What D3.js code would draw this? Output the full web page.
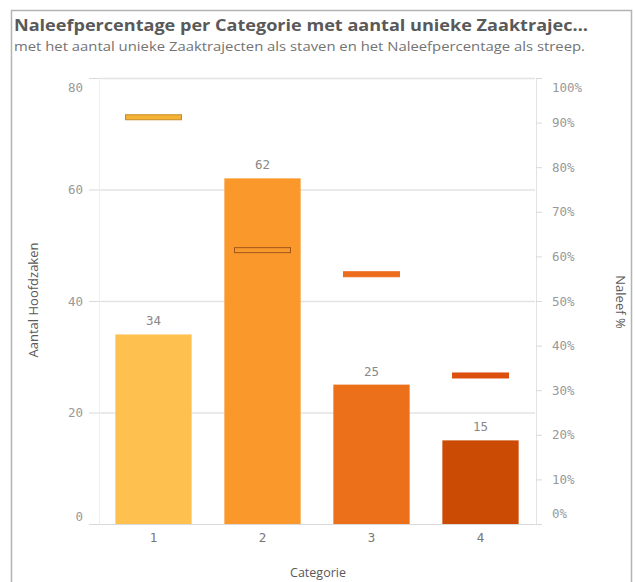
<!DOCTYPE html>
<html>
<head>
<meta charset="utf-8">
<script src="https://cdn.jsdelivr.net/npm/d3@7"></script>
<style>
  body { margin: 0; background: #fff; }
  svg text { font-family: "DejaVu Sans Mono", monospace; }
</style>
</head>
<body>
<svg id="chart" width="635" height="582"></svg>
<script>
"use strict";
var categories = ["1", "2", "3", "4"];
var counts = [34, 62, 25, 15];
var naleef = [91.2, 61.4, 56.0, 33.3];
var countTicks = [0, 20, 40, 60, 80];
var pctTicks = [0, 10, 20, 30, 40, 50, 60, 70, 80, 90, 100];
var barColors = ["#fec04f", "#fb982b", "#eb7019", "#cb4a04"];
var markFill = ["#f3b337", "#f79a2c", "#ec6d1c", "#dc4f0e"];
var markStroke = ["#c98d1f", "#a4561a", "#ec6d1c", "#dc4f0e"];

var svg = d3.select("#chart");
var plotLeft = 99, plotRight = 535, plotTop = 78, plotBottom = 524;

// frame
svg.append("rect").attr("x", 11.5).attr("y", 10.5).attr("width", 620).attr("height", 600)
    .attr("fill", "none").attr("stroke", "#b3b3b3").attr("stroke-width", 1.5);

svg.append("text").attr("x", 14).attr("y", 31)
    .style("font-family", "'Open Sans'").style("font-weight", "bold").style("font-size", "16.5px")
    .attr("fill", "#595959").attr("textLength", 574).attr("lengthAdjust", "spacingAndGlyphs")
    .text("Naleefpercentage per Categorie met aantal unieke Zaaktrajec\u2026");
svg.append("text").attr("x", 14).attr("y", 51)
    .style("font-family", "'Open Sans'").style("font-size", "12.5px").attr("fill", "#737373")
    .attr("textLength", 571).attr("lengthAdjust", "spacingAndGlyphs")
    .text("met het aantal unieke Zaaktrajecten als staven en het Naleefpercentage als streep.");

var x = d3.scaleBand().domain(categories).range([plotLeft, plotRight]).paddingInner(0.3).paddingOuter(0.15);
var y = d3.scaleLinear().domain([0, 80]).range([plotBottom, plotTop]);
var y2 = d3.scaleLinear().domain([0, 100]).range([plotBottom, plotTop]);

// gridlines
svg.append("g").selectAll("line").data(countTicks.slice(1)).join("line")
    .attr("x1", plotLeft).attr("x2", plotRight)
    .attr("y1", function (d) { return y(d) + 0.5; }).attr("y2", function (d) { return y(d) + 0.5; })
    .attr("stroke", "#e3e3e3").attr("stroke-width", 1.5);

// left axis
var gl = svg.append("g").attr("transform", "translate(" + plotLeft + ",0)")
    .call(d3.axisLeft(y).tickValues(countTicks).tickSize(10).tickPadding(6));
gl.select(".domain").attr("stroke", "#eeeeee");
gl.selectAll(".tick line").attr("stroke", "#d9d9d9");
gl.selectAll(".tick text").attr("fill", "#999").style("font-size", "12.5px")
    .attr("dy", function (d) { return d === 0 ? "-0.3em" : (d === 80 ? "1.1em" : "0.32em"); });

// right axis
var gr = svg.append("g").attr("transform", "translate(" + (plotRight + 1) + ",0)")
    .call(d3.axisRight(y2).tickValues(pctTicks).tickSize(6).tickPadding(10)
        .tickFormat(function (d) { return d + "%"; }));
gr.select(".domain").attr("stroke", "#e3e3e3");
gr.selectAll(".tick line").attr("stroke", "#d9d9d9");
gr.selectAll(".tick text").attr("fill", "#999").style("font-size", "12.5px")
    .attr("dy", function (d) { return d === 0 ? "-0.5em" : (d === 100 ? "1.05em" : "0.32em"); });

// bottom axis
var gb = svg.append("g").attr("transform", "translate(0," + plotBottom + ")")
    .call(d3.axisBottom(x).tickSize(0).tickPadding(9));
gb.select(".domain").attr("stroke", "#d9d9d9");
gb.selectAll(".tick text").attr("fill", "#777").style("font-size", "12.5px");

// bars
svg.append("g").selectAll("rect").data(counts).join("rect")
    .attr("x", function (d, i) { return x(categories[i]); })
    .attr("y", function (d) { return y(d); })
    .attr("width", x.bandwidth())
    .attr("height", function (d) { return plotBottom - y(d); })
    .attr("fill", function (d, i) { return barColors[i]; });

svg.append("g").selectAll("text").data(counts).join("text")
    .attr("x", function (d, i) { return x(categories[i]) + x.bandwidth() / 2; })
    .attr("y", function (d) { return y(d) - 9; })
    .attr("text-anchor", "middle").attr("fill", "#888").style("font-size", "12.5px")
    .text(function (d) { return d; });

// markers
var mw = 56;
svg.append("g").selectAll("rect").data(naleef).join("rect")
    .attr("x", function (d, i) { return x(categories[i]) + x.bandwidth() / 2 - mw / 2; })
    .attr("y", function (d) { return y2(d) - 2.5; })
    .attr("width", mw).attr("height", 5)
    .attr("fill", function (d, i) { return markFill[i]; })
    .attr("stroke", function (d, i) { return markStroke[i]; })
    .attr("stroke-width", 1);

// axis titles
svg.append("text").attr("transform", "translate(38,300) rotate(-90)")
    .attr("text-anchor", "middle").style("font-family", "'Open Sans'").style("font-size", "13px")
    .attr("fill", "#595959").text("Aantal Hoofdzaken");
svg.append("text").attr("transform", "translate(616,302) rotate(90)")
    .attr("text-anchor", "middle").style("font-family", "'Open Sans'").style("font-size", "13px")
    .attr("fill", "#595959").text("Naleef %");
svg.append("text").attr("x", 318).attr("y", 577)
    .attr("text-anchor", "middle").style("font-family", "'Open Sans'").style("font-size", "12.5px")
    .attr("fill", "#595959").text("Categorie");
</script>
</body>
</html>
